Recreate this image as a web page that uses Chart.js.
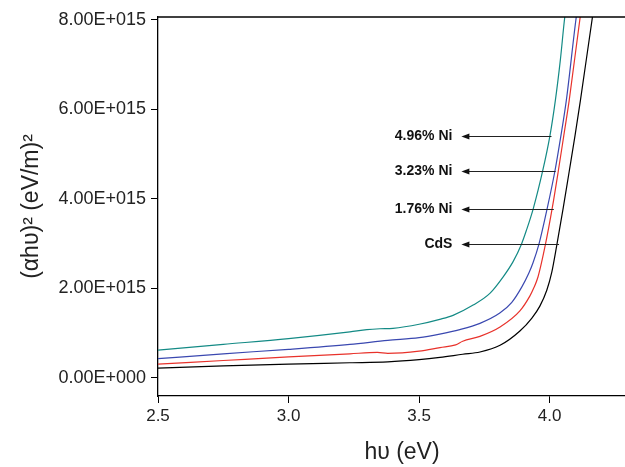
<!DOCTYPE html>
<html>
<head>
<meta charset="utf-8">
<script src="https://cdn.jsdelivr.net/npm/chart.js@4/dist/chart.umd.min.js"></script>
<style>
    html, body { margin: 0; padding: 0; background: #fff; overflow: hidden; }
</style>
</head>
<body>
<canvas id="taucCanvas" width="646" height="467"></canvas>
<script>
// photon energy (eV) and (alpha h nu)^2 (eV/m)^2
var cdsHv = [2.5, 2.75, 3.0, 3.235, 3.38, 3.5, 3.58, 3.667, 3.733, 3.81, 3.886, 3.932, 3.962, 3.989, 4.008, 4.028, 4.052, 4.075, 4.097, 4.118, 4.164, 4.17];
var cdsAlpha = [0.22e15, 0.27e15, 0.31e15, 0.34e15, 0.36e15, 0.41e15, 0.46e15, 0.53e15, 0.58e15, 0.73e15, 1.05e15, 1.34e15, 1.60e15, 1.96e15, 2.36e15, 2.99e15, 3.80e15, 4.62e15, 5.41e15, 6.21e15, 8.07e15, 8.3e15];

var ni176Hv = [2.5, 2.75, 3.0, 3.235, 3.34, 3.38, 3.5, 3.58, 3.64, 3.667, 3.733, 3.81, 3.886, 3.924, 3.939, 3.955, 3.984, 4.010, 4.033, 4.054, 4.075, 4.117, 4.123];
var ni176Alpha = [0.31e15, 0.39e15, 0.47e15, 0.54e15, 0.57e15, 0.55e15, 0.60e15, 0.68e15, 0.74e15, 0.82e15, 0.93e15, 1.14e15, 1.50e15, 1.83e15, 2.01e15, 2.25e15, 2.99e15, 3.80e15, 4.62e15, 5.41e15, 6.21e15, 8.07e15, 8.3e15];

var ni323Hv = [2.5, 2.75, 3.0, 3.235, 3.38, 3.5, 3.579, 3.656, 3.733, 3.809, 3.855, 3.893, 3.920, 3.936, 3.959, 3.991, 4.020, 4.043, 4.064, 4.102, 4.108];
var ni323Alpha = [0.43e15, 0.54e15, 0.64e15, 0.75e15, 0.84e15, 0.90e15, 0.98e15, 1.08e15, 1.22e15, 1.45e15, 1.69e15, 2.03e15, 2.34e15, 2.57e15, 2.99e15, 3.80e15, 4.62e15, 5.41e15, 6.21e15, 8.07e15, 8.3e15];

var ni496Hv = [2.5, 2.75, 3.0, 3.235, 3.30, 3.35, 3.40, 3.5, 3.579, 3.63, 3.707, 3.771, 3.822, 3.86, 3.892, 3.911, 3.937, 3.973, 4.001, 4.022, 4.041, 4.058, 4.064];
var ni496Alpha = [0.62e15, 0.75e15, 0.88e15, 1.03e15, 1.08e15, 1.10e15, 1.11e15, 1.20e15, 1.31e15, 1.40e15, 1.63e15, 1.89e15, 2.26e15, 2.60e15, 2.99e15, 3.30e15, 3.78e15, 4.62e15, 5.41e15, 6.21e15, 7.11e15, 8.07e15, 8.3e15];

var xTicks = [2.5, 3.0, 3.5, 4.0];
var yTicks = [0, 2e15, 4e15, 6e15, 8e15];

// arrow labels: text, level, right end of the arrow
var labelNames = ['4.96% Ni', '3.23% Ni', '1.76% Ni', 'CdS'];
var labelLevels = [5.41e15, 4.62e15, 3.78e15, 2.99e15];
var labelArrowEnds = [4.007, 4.023, 4.016, 4.036];
var labelArrowTip = 3.662;

var fontName = "'Liberation Sans', Arial, Helvetica, sans-serif";

function toPoints(xs, ys) {
    var pts = [];
    for (var i = 0; i < xs.length; i++) {
        pts.push({ x: xs[i], y: ys[i] });
    }
    return pts;
}

function sciLabel(v) {
    if (v === 0) return '0.00E+000';
    var e = Math.floor(Math.log10(Math.abs(v)) + 1e-9);
    var m = v / Math.pow(10, e);
    return m.toFixed(2) + 'E+' + ('000' + e).slice(-3);
}

function makeSeries(label, xs, ys, color) {
    return {
        label: label,
        data: toPoints(xs, ys),
        borderColor: color,
        backgroundColor: color,
        borderWidth: 1.2,
        pointRadius: 0,
        fill: false,
        cubicInterpolationMode: 'monotone'
    };
}

// top frame line plus the labelled arrows
var arrowPlugin = {
    id: 'arrowLabels',
    afterDatasetsDraw: function (chart) {
        var ctx = chart.ctx;
        var area = chart.chartArea;
        var xs = chart.scales.x;
        var ys = chart.scales.y;
        ctx.save();
        ctx.strokeStyle = '#000';
        ctx.lineWidth = 1.3;
        ctx.beginPath();
        ctx.moveTo(area.left, area.top);
        ctx.lineTo(area.right, area.top);
        ctx.stroke();

        var tip = xs.getPixelForValue(labelArrowTip);
        ctx.font = 'bold 14px ' + fontName;
        ctx.textAlign = 'right';
        ctx.textBaseline = 'middle';
        for (var i = 0; i < labelNames.length; i++) {
            var y = Math.round(ys.getPixelForValue(labelLevels[i])) + 0.5;
            var end = xs.getPixelForValue(labelArrowEnds[i]);
            ctx.strokeStyle = '#222';
            ctx.lineWidth = 1;
            ctx.beginPath();
            ctx.moveTo(end, y);
            ctx.lineTo(tip + 5, y);
            ctx.stroke();
            ctx.fillStyle = '#111';
            ctx.beginPath();
            ctx.moveTo(tip, y);
            ctx.lineTo(tip + 8, y - 3);
            ctx.lineTo(tip + 8, y + 3);
            ctx.closePath();
            ctx.fill();
            ctx.fillText(labelNames[i], tip - 9, y);
        }
        ctx.restore();
    }
};

var tauc = new Chart(document.getElementById('taucCanvas'), {
    type: 'line',
    data: {
        datasets: [
            makeSeries('CdS', cdsHv, cdsAlpha, '#000000'),
            makeSeries('1.76% Ni', ni176Hv, ni176Alpha, '#e8322b'),
            makeSeries('3.23% Ni', ni323Hv, ni323Alpha, '#3a48b0'),
            makeSeries('4.96% Ni', ni496Hv, ni496Alpha, '#138a85')
        ]
    },
    options: {
        responsive: false,
        devicePixelRatio: 1,
        animation: false,
        layout: { padding: { top: 17, right: 0, left: 0, bottom: 0 } },
        plugins: {
            legend: { display: false },
            tooltip: { enabled: false }
        },
        scales: {
            x: {
                type: 'linear',
                min: 2.5,
                max: 4.369,
                afterFit: function (scale) { scale.height = 71; },
                afterBuildTicks: function (scale) {
                    scale.ticks = xTicks.map(function (v) { return { value: v }; });
                },
                ticks: {
                    color: '#222',
                    padding: 3,
                    maxRotation: 0,
                    font: { family: fontName, size: 17 },
                    callback: function (v) { return v.toFixed(1); }
                },
                grid: { display: true, drawOnChartArea: false, drawTicks: true, tickLength: 7, color: '#000' },
                border: { display: true, color: '#000', width: 1.3 },
                title: {
                    display: true,
                    text: 'hυ (eV)',
                    color: '#222',
                    font: { family: fontName, size: 23 },
                    padding: { top: 0, bottom: 1 }
                }
            },
            y: {
                min: -0.403e15,
                max: 8.067e15,
                afterFit: function (scale) { scale.width = 158; },
                afterBuildTicks: function (scale) {
                    scale.ticks = yTicks.map(function (v) { return { value: v }; });
                },
                ticks: {
                    color: '#222',
                    padding: 5,
                    font: { family: fontName, size: 18 },
                    callback: function (v) { return sciLabel(v); }
                },
                grid: { display: true, drawOnChartArea: false, drawTicks: true, tickLength: 7, color: '#000' },
                border: { display: true, color: '#000', width: 1.3 },
                title: {
                    display: true,
                    text: '(αhυ)² (eV/m)²',
                    color: '#222',
                    font: { family: fontName, size: 23 },
                    padding: { top: 18, bottom: 0 }
                }
            }
        }
    },
    plugins: [arrowPlugin]
});
</script>
</body>
</html>
